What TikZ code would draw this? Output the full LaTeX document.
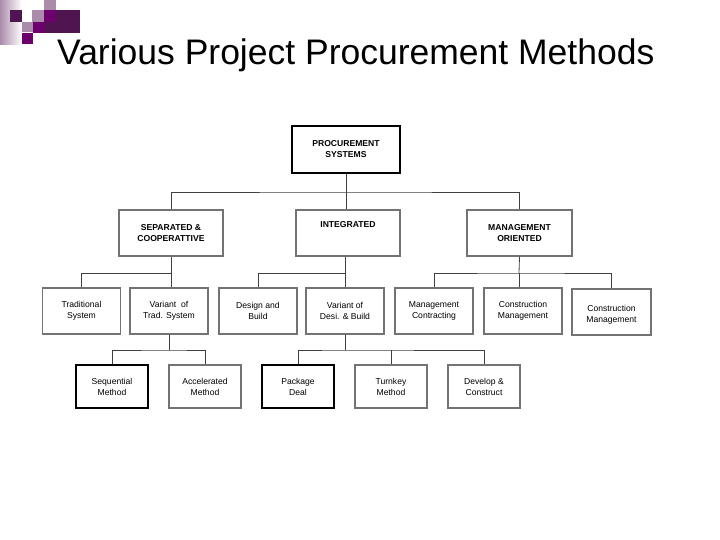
\documentclass[tikz,border=0pt]{standalone}
\usepackage{fontspec}
\setmainfont{Liberation Sans}
\definecolor{pur}{RGB}{110,0,110}
\definecolor{purd}{RGB}{80,20,80}
\definecolor{purl}{RGB}{170,140,170}
\begin{document}
\begin{tikzpicture}[x=1pt,y=-1pt,
  bx/.style={draw=#1,line width=1.4pt,fill=white,inner sep=0pt,align=center,font=\fontsize{8.6}{11}\selectfont},
  bx/.default=black,
  ln/.style={draw=black!75,line width=0.8pt}]
\useasboundingbox (0,0) rectangle (720,540);
\fill[white] (0,0) rectangle (720,540);
% decoration
\shade[left color=purl,right color=white] (0,0) rectangle (22,45);
\fill[purd] (10,10) rectangle (22,22);
\fill[purl] (22,22) rectangle (33,32);
\fill[purl] (32,10) rectangle (44,22);
\fill[pur] (44,10) rectangle (56,22);
\fill[pur] (33,22) rectangle (45,33);
\fill[pur] (22,33) rectangle (33,44);
\fill[purl] (44,0) rectangle (56,10);
\fill[purd] (56,10) rectangle (80,22);
\fill[purd] (45,22) rectangle (80,33);
\node[anchor=west,inner sep=0pt,font=\fontsize{35.5}{40}\selectfont] (title) at (57,55) {Various Project Procurement Methods};
% nodes
\node[bx,minimum width=108,minimum height=47,font=\bfseries\fontsize{8.6}{11}\selectfont] (ps) at (346,149.5) {PROCUREMENT\\SYSTEMS};
\node[bx=black!55,minimum width=104,minimum height=46,font=\bfseries\fontsize{8.6}{11}\selectfont] (sep) at (171,233) {SEPARATED \&\\COOPERATTIVE};
\node[bx=black!55,minimum width=104,minimum height=46,font=\bfseries\fontsize{8.6}{11}\selectfont] (int) at (348,233) {INTEGRATED\\[7pt]};
\node[bx=black!55,minimum width=105,minimum height=46,font=\bfseries\fontsize{8.6}{11}\selectfont] (mo) at (519.5,233) {MANAGEMENT\\ORIENTED};
\foreach \n/\x/\t in {ts/81.5/Traditional\\System, vt/169/Variant\ \ of\\Trad. System, db/258/Design and\\Build, vd/345/Variant of\\Desi. \& Build, mc/434/Management\\Contracting, cm/523/Construction\\Management}
  \node[bx=black!55,minimum width=78,minimum height=46] (\n) at (\x,311) {\t};
\node[bx=black!55,minimum width=79,minimum height=46] (cm2) at (611.5,312) {\\Construction\\Management};
\foreach \n/\x/\t/\c in {sq/112/Sequential\\Method/black, ac/205/Accelerated\\Method/black!55, pd/298/Package\\Deal/black, tk/391/Turnkey\\Method/black!55, dc/484/Develop \&\\Construct/black!55}
  \node[bx=\c,minimum width=72,minimum height=43] (\n) at (\x,386.5) {\t};
% connectors
\draw[ln] (ps.south) -- (346,192) coordinate (j1);
\draw[ln] (sep.north) |- (j1) -| (mo.north);
\draw[ln] (j1) -- (int.north -| j1);
\draw[ln] (sep.south) -- (171,273) coordinate (j2);
\draw[ln] (ts.north) |- (j2) -- (vt.north -| j2);
\draw[ln] (int.south -| vd.north) -- (345,273) coordinate (j3);
\draw[ln] (db.north) |- (j3) -- (vd.north);
\draw[ln] (mo.south) -- (519,273) coordinate (j4);
\draw[ln] (mc.north) |- (j4) -| (cm2.north);
\draw[ln] (j4) -- (cm.north -| j4);
\draw[ln] (vt.south) -- (169,350) coordinate (j5);
\draw[ln] (sq.north) |- (j5) -| (ac.north);
\draw[ln] (vd.south) -- (345,350) coordinate (j6);
\draw[ln] (pd.north) |- (j6) -| (dc.north);
\draw[ln] (tk.north) -- (tk.north |- j6);
\end{tikzpicture}
\end{document}
